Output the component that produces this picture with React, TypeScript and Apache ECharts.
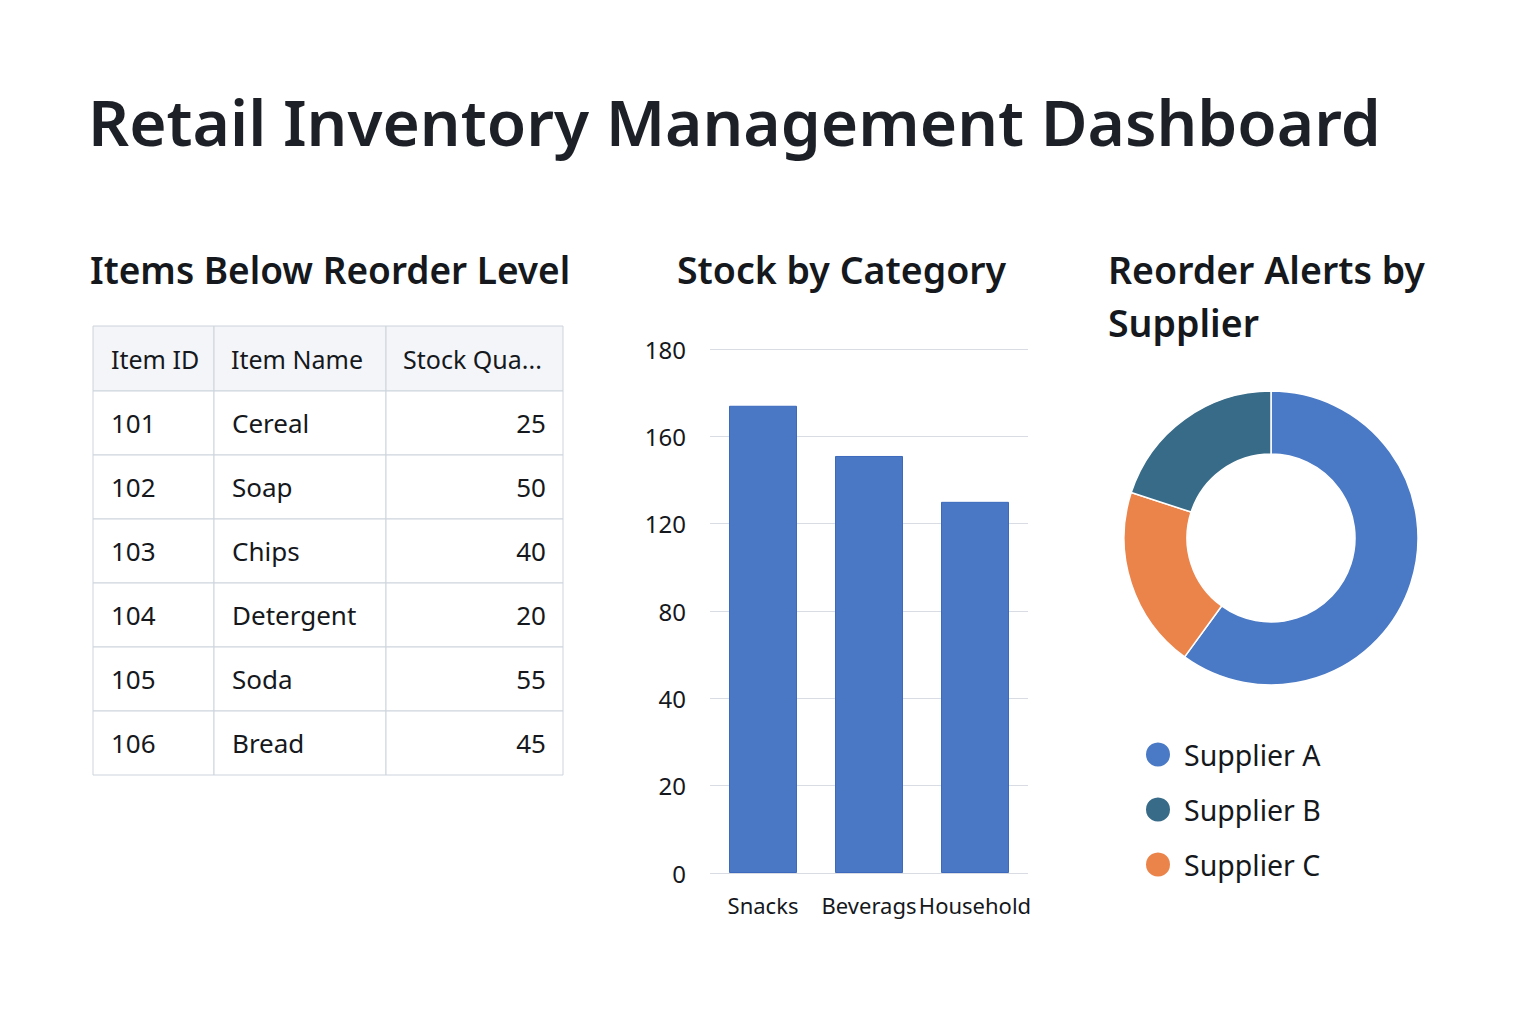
import React, { useEffect, useRef } from "react";
import * as echarts from "echarts";

const TITLE = "Retail Inventory Management Dashboard";
const TABLE_TITLE = "Items Below Reorder Level";
const BAR_TITLE = "Stock by Category";
const PIE_TITLE_LINES = ["Reorder Alerts by", "Supplier"];

const TABLE_COLUMNS = ["Item ID", "Item Name", "Stock Qua..."];
const ITEM_IDS = ["101", "102", "103", "104", "105", "106"];
const ITEM_NAMES = ["Cereal", "Soap", "Chips", "Detergent", "Soda", "Bread"];
const STOCK_QTY = [25, 50, 40, 20, 55, 45];

const CATEGORIES = ["Snacks", "Beverags", "Household"];
const CATEGORY_STOCK = [167, 151, 130];
const Y_TICKS = [0, 20, 40, 80, 120, 160, 180];

const SUPPLIERS = ["Supplier A", "Supplier B", "Supplier C"];
const SUPPLIER_ALERTS = [60, 20, 20];
const SUPPLIER_COLORS = ["#4a79c5", "#386b88", "#eb844b"];
const PIE_ORDER = [0, 2, 1];

const FONT = "'Noto Sans', 'Open Sans', sans-serif";
const TEXT = "#15181c";

// map a value onto the evenly spaced tick positions of the y axis
function toAxis(v: number): number {
  for (let i = 0; i < Y_TICKS.length - 1; i++) {
    if (v <= Y_TICKS[i + 1]) {
      return i + (v - Y_TICKS[i]) / (Y_TICKS[i + 1] - Y_TICKS[i]);
    }
  }
  return Y_TICKS.length - 1;
}

export default function App() {
  const ref = useRef<HTMLDivElement>(null);
  useEffect(() => {
    if (!ref.current) return;
    const chart = echarts.init(ref.current, null, { renderer: "svg" });

    const tableX = 93;
    const colW = [121, 172, 177];
    const headerY = 326;
    const headerH = 65;
    const rowH = 64;
    const border = "#cdd4dc";
    const g: any[] = [];

    g.push({
      type: "text",
      x: 88,
      y: 121,
      style: { text: TITLE, fill: "#1d2127", fontSize: 64, fontWeight: 600, fontFamily: FONT, textVerticalAlign: "middle" },
    });
    g.push({
      type: "text",
      x: 90,
      y: 269,
      style: { text: TABLE_TITLE, fill: TEXT, fontSize: 37, fontWeight: 600, fontFamily: FONT, textVerticalAlign: "middle" },
    });
    g.push({
      type: "text",
      x: 677,
      y: 269,
      style: { text: BAR_TITLE, fill: TEXT, fontSize: 37.5, fontWeight: 600, fontFamily: FONT, textVerticalAlign: "middle" },
    });
    PIE_TITLE_LINES.forEach((t, i) => {
      g.push({
        type: "text",
        x: 1108,
        y: 269 + i * 53,
        style: { text: t, fill: TEXT, fontSize: 37.5, fontWeight: 600, fontFamily: FONT, textVerticalAlign: "middle" },
      });
    });

    // table
    const colX: number[] = [];
    let cx = tableX;
    colW.forEach((w) => {
      colX.push(cx);
      cx += w;
    });
    TABLE_COLUMNS.forEach((c, j) => {
      g.push({
        type: "rect",
        shape: { x: colX[j], y: headerY, width: colW[j], height: headerH },
        style: { fill: "#f3f5f8", stroke: border, lineWidth: 1 },
      });
      g.push({
        type: "text",
        x: colX[j] + (j === 0 ? 18 : 17),
        y: headerY + headerH / 2,
        style: { text: c, fill: TEXT, fontSize: 25, fontFamily: FONT, textVerticalAlign: "middle" },
      });
    });
    ITEM_IDS.forEach((id, i) => {
      const y = headerY + headerH + i * rowH;
      const vals = [id, ITEM_NAMES[i], String(STOCK_QTY[i])];
      vals.forEach((v, j) => {
        g.push({
          type: "rect",
          shape: { x: colX[j], y, width: colW[j], height: rowH },
          style: { fill: "#ffffff", stroke: border, lineWidth: 1 },
        });
        const right = j === 2;
        g.push({
          type: "text",
          x: right ? colX[j] + colW[j] - 17 : colX[j] + 18,
          y: y + rowH / 2,
          style: {
            text: v,
            fill: TEXT,
            fontSize: 26,
            fontFamily: FONT,
            textAlign: right ? "right" : "left",
            textVerticalAlign: "middle",
          },
        });
      });
    });

    chart.setOption({
      animation: false,
      backgroundColor: "#ffffff",
      graphic: g,
      grid: { left: 710, right: 508, top: 349, bottom: 151, containLabel: false },
      xAxis: {
        type: "category",
        data: CATEGORIES,
        axisLine: { show: false },
        axisTick: { show: false },
        axisLabel: {
          interval: 0,
          margin: 21,
          color: TEXT,
          fontSize: 22,
          fontFamily: FONT,
        },
      },
      yAxis: {
        type: "value",
        min: 0,
        max: Y_TICKS.length - 1,
        interval: 1,
        axisLine: { show: false },
        axisTick: { show: false },
        splitLine: { lineStyle: { color: "#d9dde3", width: 1.2 } },
        axisLabel: {
          margin: 24,
          color: TEXT,
          fontSize: 24,
          fontFamily: FONT,
          formatter: (v: number) => String(Y_TICKS[Math.round(v)]),
        },
      },
      legend: {
        data: SUPPLIERS,
        orient: "vertical",
        left: 1139,
        top: 735,
        icon: "circle",
        itemWidth: 26,
        itemHeight: 26,
        itemGap: 26,
        textStyle: { color: TEXT, fontSize: 28.5, fontFamily: FONT, padding: [0, 0, 0, 8] },
      },
      series: [
        {
          type: "bar",
          data: CATEGORY_STOCK.map((v) => toAxis(v)),
          barWidth: 68,
          itemStyle: { color: "#4a78c4", borderColor: "#3c69bd", borderWidth: 1 },
        },
        {
          type: "pie",
          center: [1271, 538],
          radius: [84, 147],
          startAngle: 90,
          clockwise: true,
          label: { show: false },
          labelLine: { show: false },
          itemStyle: { borderColor: "#ffffff", borderWidth: 1.5 },
          data: PIE_ORDER.map((k) => ({
            name: SUPPLIERS[k],
            value: SUPPLIER_ALERTS[k],
            itemStyle: { color: SUPPLIER_COLORS[k] },
          })),
        },
      ],
    });
    return () => chart.dispose();
  }, []);
  return (
    <div
      ref={ref}
      style={{ position: "absolute", left: 0, top: 0, width: 1536, height: 1024, background: "#ffffff" }}
    />
  );
}
